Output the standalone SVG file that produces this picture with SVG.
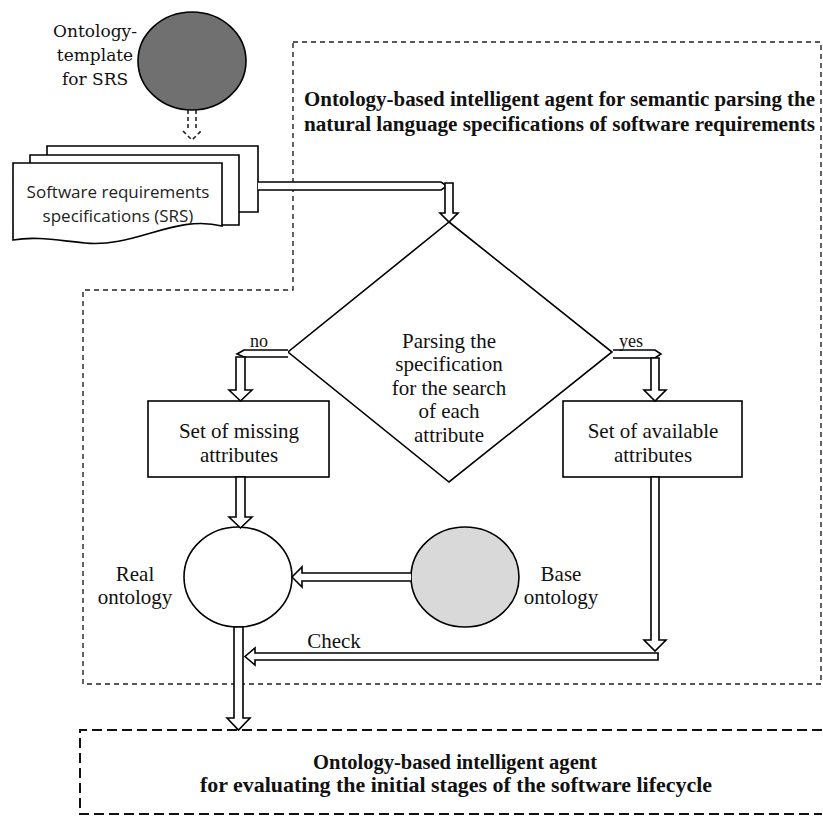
<svg xmlns="http://www.w3.org/2000/svg" width="823" height="817" viewBox="0 0 823 817">
<style>
.h{fill:#fff;stroke:#000;stroke-width:1.6}
.serif{font-family:"Liberation Serif","Times New Roman",serif;font-size:21px;fill:#111}
.tpl{font-family:"DejaVu Serif","Liberation Serif",serif;font-size:17px;fill:#111}
.sans{font-family:"Open Sans","Liberation Sans",sans-serif;font-size:17px;fill:#222}
.b{font-family:"Liberation Serif","Times New Roman",serif;font-weight:bold;font-size:20px;fill:#111}
.d1{fill:none;stroke:#222;stroke-width:1.4;stroke-dasharray:5,4}
.d2{fill:none;stroke:#111;stroke-width:2;stroke-dasharray:10,5}
</style>
<rect width="823" height="817" fill="#fff"/>
<g id="main-region">
<path class="d1" d="M293,42 H821 V684 H83 V290 H293 Z"/>
<text class="b" x="304" y="106" textLength="511" lengthAdjust="spacingAndGlyphs">Ontology-based intelligent agent for semantic parsing the</text>
<text class="b" x="304" y="131" textLength="511" lengthAdjust="spacingAndGlyphs">natural language specifications of software requirements</text>
</g>
<g id="template">
<ellipse cx="192" cy="61" rx="54" ry="49" fill="#707070" stroke="#000" stroke-width="1.6"/>
<text class="tpl" text-anchor="middle" x="95" y="37">Ontology-</text>
<text class="tpl" text-anchor="middle" x="95" y="61">template</text>
<text class="tpl" text-anchor="middle" x="95" y="85">for SRS</text>
</g>
<g id="srs">
<path class="h" d="M47,155 V146 H258 V212 H239"/>
<path class="h" d="M30,163 V155 H239 V225 H222"/>
<path class="h" d="M13,163 H222 V226 C175,214 135,248 85,243 C55,240 35,236 13,240 Z"/>
<text class="sans" text-anchor="middle" x="118" y="198">Software requirements</text>
<text class="sans" text-anchor="middle" x="118" y="222">specifications (SRS)</text>
</g>
<g id="decision">
<polygon class="h" points="449,222 612,352 449,482 288,352"/>
<text class="serif" text-anchor="middle" x="449" y="348">Parsing the</text>
<text class="serif" text-anchor="middle" x="449" y="371">specification</text>
<text class="serif" text-anchor="middle" x="449" y="395">for the search</text>
<text class="serif" text-anchor="middle" x="449" y="418">of each</text>
<text class="serif" text-anchor="middle" x="449" y="442">attribute</text>
</g>
<g id="missing">
<rect class="h" x="148" y="401" width="181" height="76"/>
<text class="serif" text-anchor="middle" x="239" y="438">Set of missing</text>
<text class="serif" text-anchor="middle" x="239" y="462">attributes</text>
</g>
<g id="available">
<rect class="h" x="563" y="401" width="179" height="76"/>
<text class="serif" text-anchor="middle" x="653" y="438">Set of available</text>
<text class="serif" text-anchor="middle" x="653" y="462">attributes</text>
</g>
<g id="real">
<ellipse class="h" cx="238" cy="577" rx="54" ry="50"/>
<text class="serif" text-anchor="middle" x="135" y="581">Real</text>
<text class="serif" text-anchor="middle" x="135" y="604">ontology</text>
</g>
<g id="base">
<ellipse cx="465" cy="577" rx="54" ry="50" fill="#d9d9d9" stroke="#000" stroke-width="1.6"/>
<text class="serif" text-anchor="middle" x="561" y="581">Base</text>
<text class="serif" text-anchor="middle" x="561" y="604">ontology</text>
</g>
<g id="evaluator">
<path class="d2" d="M822,730 H80 V814 H822"/>
<text class="b" x="313" y="769" textLength="284" lengthAdjust="spacingAndGlyphs">Ontology-based intelligent agent</text>
<text class="b" x="200" y="792" textLength="512" lengthAdjust="spacingAndGlyphs">for evaluating the initial stages of the software lifecycle</text>
</g>
<g id="connectors">
<path class="d1" style="stroke-dasharray:4,3;stroke-width:1.6" d="M188,110 V131 M196,110 V131 M183,131 L192,140 L201,131"/>
<path class="h" d="M258,182 H441 L447,186 L441,190 H258"/>
<path class="h" d="M445,183 H453 V213 H458 L449,222 L440,213 H445 Z"/>
<path class="h" d="M288,350 H244 L237,354 L244,357 H288"/>
<text class="serif" text-anchor="middle" x="259" y="347" style="font-size:18px">no</text>
<path class="h" d="M236,357 H245 V390 H252 L240.5,401 L229,390 H236 Z"/>
<path class="h" d="M613,350 H655 L661,354 L655,358 H613"/>
<text class="serif" text-anchor="middle" x="631" y="347" style="font-size:18px">yes</text>
<path class="h" d="M651,358 H659 V390 H666 L655,401 L644,390 H651 Z"/>
<path class="h" d="M236,477 H245 V517 H252 L240.5,528 L229,517 H236 Z"/>
<path class="h" d="M411,573 H302 V567 L292,577 L302,587 V581 H411"/>
<path class="h" d="M651,477 H659 V640 H666 L655,651 L644,640 H651 Z"/>
<path class="h" d="M658,653 H255 V648 L245,656.5 L255,665 V660 H658 Z"/>
<text class="serif" text-anchor="middle" x="334" y="648">Check</text>
<path class="h" d="M234,627 H243 V718 H250 L238.5,730 L227,718 H234 Z"/>
</g>
</svg>
